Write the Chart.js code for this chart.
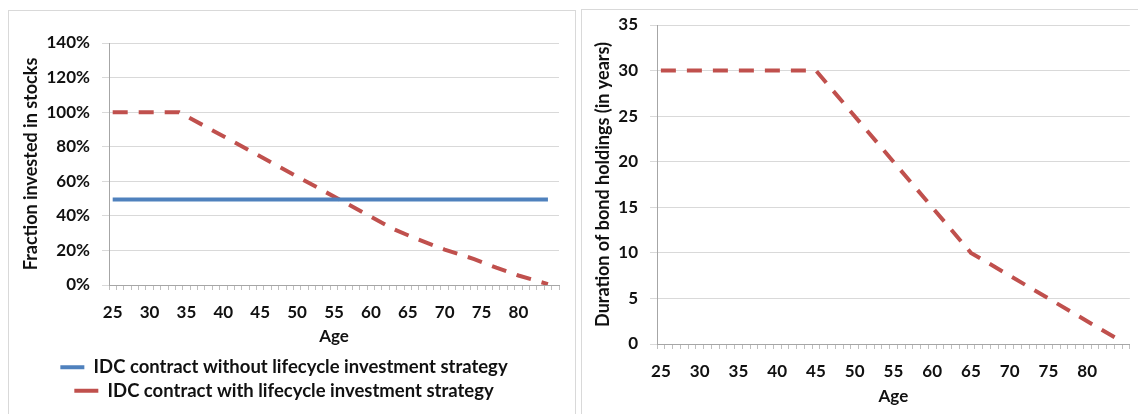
<!DOCTYPE html>
<html>
<head>
<meta charset="utf-8">
<script src="https://cdn.jsdelivr.net/npm/chart.js@4"></script>
<style>
  body { margin: 0; background: #fff; width: 1138px; height: 414px; overflow: hidden; position: relative; }
  .panel { position: absolute; border: 1px solid #d9d9d9; box-sizing: border-box; }
  canvas { position: absolute; }
</style>
</head>
<body>
<div class="panel" style="left:8px; top:10px; width:568px; height:420px;"></div>
<div class="panel" style="left:581px; top:9px; width:570px; height:420px;"></div>
<canvas id="stocks" width="565" height="403" style="left:9px; top:11px;"></canvas>
<canvas id="bonds" width="556" height="404" style="left:582px; top:10px;"></canvas>
<script>
// categories (age), last one carries no label
var ages = [25, 26, 27, 28, 29, 30, 31, 32, 33, 34, 35, 36, 37, 38, 39, 40, 41, 42, 43, 44,
  45, 46, 47, 48, 49, 50, 51, 52, 53, 54, 55, 56, 57, 58, 59, 60, 61, 62, 63, 64,
  65, 66, 67, 68, 69, 70, 71, 72, 73, 74, 75, 76, 77, 78, 79, 80, 81, 82, 83, 84, 85];
var tickLabels = [25, 30, 35, 40, 45, 50, 55, 60, 65, 70, 75, 80];

// left chart: fraction in stocks (read at the break points)
var flatAges = [25, 84];
var flatStocks = [0.495, 0.495];
var lifeAges = [25, 34, 60, 63, 66, 70, 74, 77, 80, 84];
var lifeStocks = [1.0, 1.0, 0.395, 0.325, 0.27, 0.205, 0.15, 0.1, 0.055, 0.005];

// right chart: duration of bond holdings
var durAges = [25, 45, 65, 84];
var durYears = [30, 30, 10, 0.5];

var FONT = "Lato";
var BLUE = "#4f81bd";
var RED = "#c0504d";

function toSeries(keyAges, keyVals) {
  return ages.map(function (a) {
    var i = keyAges.indexOf(a);
    return i >= 0 ? keyVals[i] : null;
  });
}

// height: fixed axis height, titleBottom: gap under "Age"
function xAxis(height, titleBottom) {
  return {
    type: "category",
    offset: true,
    afterFit: function (scale) { scale.height = height; },
    grid: { display: true, drawOnChartArea: false, drawTicks: true, tickLength: 5, offset: true, color: "#bfbfbf" },
    border: { display: true, color: "#a6a6a6" },
    ticks: {
      autoSkip: false, maxRotation: 0, minRotation: 0, padding: 12, color: "#111",
      font: { family: FONT, size: 17, weight: "bold" },
      callback: function (value, index) {
        var a = ages[index];
        return tickLabels.indexOf(a) >= 0 ? String(a) : "";
      },
    },
    title: { display: true, text: "Age", color: "#111", padding: { top: 0, bottom: titleBottom },
      font: { family: FONT, size: 17, weight: "bold" } },
  };
}

function yAxis(min, max, step, fmt, title, width, titlePad) {
  return {
    min: min, max: max,
    afterFit: function (scale) {
      scale.width = width;
      scale.paddingTop = 0;
      scale.paddingBottom = 0;
    },
    grid: { color: "#d9d9d9", drawTicks: true, tickLength: 7 },
    border: { display: true, color: "#a6a6a6" },
    ticks: { stepSize: step, padding: 12, color: "#111", callback: fmt,
      font: { family: FONT, size: 17, weight: "bold" } },
    title: { display: true, text: title, color: "#111", padding: { top: titlePad, bottom: 0 },
      font: { family: FONT, size: 18, weight: "bold" } },
  };
}

var stocksChart = new Chart(document.getElementById("stocks").getContext("2d"), {
  type: "line",
  data: {
    labels: ages,
    datasets: [
      {
        label: "IDC contract without lifecycle investment strategy",
        data: toSeries(flatAges, flatStocks),
        borderColor: BLUE, backgroundColor: BLUE, borderWidth: 4,
        pointRadius: 0, spanGaps: true, tension: 0,
      },
      {
        label: "IDC contract with lifecycle investment strategy",
        data: toSeries(lifeAges, lifeStocks),
        borderColor: RED, backgroundColor: RED, borderWidth: 4, borderDash: [15, 11],
        pointRadius: 0, spanGaps: true, tension: 0,
      },
    ],
  },
  options: {
    responsive: false,
    animation: false,
    layout: { padding: { left: 0, right: 15, top: 32, bottom: 4 } },
    plugins: {
      tooltip: { enabled: false },
      legend: {
        position: "bottom",
        align: "center",
        labels: {
          usePointStyle: true, pointStyle: "line", pointStyleWidth: 24, padding: 5,
          color: "#111", font: { family: FONT, size: 18.5, weight: "bold" },
        },
      },
    },
    scales: {
      x: xAxis(68, 6),
      y: yAxis(0, 1.4, 0.2, function (v) { return Math.round(v * 100) + "%"; },
        "Fraction invested in stocks", 100, 11),
    },
  },
});

var bondsChart = new Chart(document.getElementById("bonds").getContext("2d"), {
  type: "line",
  data: {
    labels: ages,
    datasets: [
      {
        label: "Duration",
        data: toSeries(durAges, durYears),
        borderColor: RED, backgroundColor: RED, borderWidth: 4, borderDash: [15, 11],
        pointRadius: 0, spanGaps: true, tension: 0,
      },
    ],
  },
  options: {
    responsive: false,
    animation: false,
    layout: { padding: { left: 0, right: 5, top: 15, bottom: 7 } },
    plugins: { tooltip: { enabled: false }, legend: { display: false } },
    scales: {
      x: xAxis(63, 0),
      y: yAxis(0, 35, 5, function (v) { return v; },
        "Duration of bond holdings (in years)", 75, 10),
    },
  },
});
</script>
</body>
</html>
